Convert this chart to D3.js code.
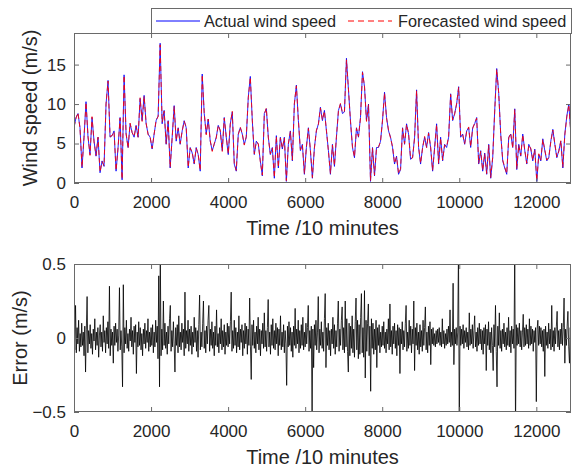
<!DOCTYPE html>
<html><head><meta charset="utf-8">
<script src="https://cdn.jsdelivr.net/npm/d3@7"></script>
<style>
body{margin:0;background:#fff}
svg{display:block;font-family:"Liberation Sans",Arial,Helvetica,sans-serif}
</style>
</head><body>
<svg id="chart" width="573" height="470"></svg>
<script>
// ---------------- data ----------------
const windStep = 52;   // time units (10 min) between wind samples
const actualSpeed = [
7.0,8.3,8.8,7.0,1.9,5.8,10.3,5.8,3.6,8.3,
5.3,3.4,5.8,1.3,2.8,2.1,10.0,13.0,5.8,6.0,
6.6,1.5,4.5,8.3,0.4,13.7,6.2,4.5,7.5,6.4,
5.8,7.3,5.8,10.7,7.9,11.1,7.5,6.2,5.8,4.3,
6.2,7.9,8.5,17.7,7.5,9.2,4.9,7.9,1.9,5.8,
9.8,5.3,7.0,4.9,6.6,7.9,7.0,1.9,4.5,3.8,
2.4,4.5,3.6,1.5,
13.8,8.8,6.2,8.1,5.3,4.1,
4.9,5.8,7.3,6.6,4.1,8.3,5.8,3.6,7.5,9.0,
2.4,1.5,6.2,7.0,6.2,4.9,5.8,10.9,13.5,7.9,
3.6,5.3,4.9,2.8,0.9,8.8,9.4,5.8,3.6,4.5,
0.6,6.0,1.9,5.8,4.3,5.8,0.2,4.9,6.6,2.8,
10.0,12.4,7.9,4.1,4.9,1.1,4.5,7.0,4.1,0.6,
4.5,6.6,7.5,9.6,7.9,
9.2,6.6,4.1,1.1,4.9,
2.1,5.8,9.2,10.0,8.8,9.0,15.8,11.8,7.9,4.5,
3.2,7.0,5.8,8.3,14.1,12.2,7.9,10.0,0.2,4.5,
0.9,4.5,4.5,5.3,7.9,11.5,8.3,6.6,5.8,4.5,
2.4,3.4,1.1,1.7,7.0,4.9,7.5,6.2,3.0,3.2,
5.8,11.8,4.5,2.4,4.5,5.8,4.5,6.4,4.5,1.5,
4.5,7.5,2.4,5.8,2.8,4.9,4.5,
5.8,11.3,7.9,
8.8,10.0,12.2,5.8,6.2,4.9,6.6,7.0,4.5,7.0,
7.5,8.3,2.4,4.1,1.5,3.8,1.1,4.9,0.6,3.2,
9.2,14.5,11.3,6.2,2.8,1.9,1.1,5.8,6.2,4.5,
9.4,1.7,4.9,3.4,6.2,4.1,2.4,4.9,4.3,2.8,
4.3,0.2,3.6,2.8,5.6,4.1,2.8,3.2,5.3,6.8,
4.9,3.2,4.1,5.3,1.9,6.2,8.5,10.0,6.2
];
const forecastSpeed = [
7.1,8.2,8.9,6.9,2.0,5.8,10.2,5.9,3.5,8.4,
5.2,3.5,5.8,1.4,2.7,2.2,10.1,12.9,5.9,6.0,
6.5,1.6,4.5,8.2,0.5,13.6,6.3,4.4,7.6,6.4,
5.9,7.2,5.8,10.8,7.8,11.0,7.6,6.1,5.8,4.4,
6.2,8.0,8.4,17.5,7.7,9.1,5.0,7.8,2.0,5.7,
9.7,5.4,6.9,5.0,6.6,7.8,7.1,2.0,4.4,3.9,
2.5,4.4,3.6,1.6,
13.7,8.9,6.1,8.1,5.4,4.0,
5.0,5.7,7.3,6.7,4.0,8.2,5.9,3.7,7.4,9.1,
2.5,1.6,6.1,7.1,6.2,4.8,5.9,10.8,13.4,8.0,
3.7,5.2,5.0,2.7,1.0,8.7,9.5,5.7,3.7,4.4,
0.7,5.9,2.0,5.7,4.4,5.7,0.3,5.0,6.5,2.9,
10.1,12.3,8.0,4.2,4.8,1.2,4.6,6.9,4.2,0.7,
4.4,6.7,7.4,9.5,8.0,
9.1,6.7,4.0,1.2,4.8,
2.2,5.9,9.1,10.1,8.9,9.1,15.6,11.9,7.8,4.6,
3.3,6.9,5.9,8.2,14.0,12.3,7.8,9.9,0.3,4.4,
1.0,4.4,4.6,5.2,8.0,11.4,8.2,6.7,5.7,4.6,
2.5,3.3,1.2,1.8,6.9,5.0,7.4,6.3,3.1,3.2,
5.7,11.7,4.6,2.5,4.4,5.9,4.5,6.3,4.6,1.6,
4.4,7.4,2.5,5.7,2.9,4.8,4.6,
5.9,11.2,8.0,
8.7,10.1,12.1,5.9,6.1,5.0,6.5,7.1,4.6,6.9,
7.6,8.2,2.5,4.0,1.6,3.7,1.2,4.8,0.7,3.3,
9.1,14.4,11.4,6.1,2.9,2.0,1.2,5.7,6.3,4.4,
9.3,1.8,4.8,3.5,6.1,4.2,2.5,4.8,4.4,2.9,
4.2,0.3,3.7,2.9,5.5,4.2,2.9,3.3,5.2,6.7,
5.0,3.3,4.0,5.4,2.0,6.1,8.4,9.9,6.3
];
const errStep = 20;    // time units between error samples
const errorValues = [
.05,-.08,.22,-.1,.07,-.04,.12,-.09,.03,-.06, .1,-.05,.04,-.12,.08,-.23,.06,.28,-.1,.05,
-.04,.09,-.07,.03,-.11,.06,-.02,.13,-.08,.04, -.05,.07,-.13,.02,.09,-.06,.04,-.09,.15,-.03,
.05,-.1,.07,-.04,.11,-.07,.35,-.12,.06,-.05,
.04,-.17,.08,-.05,.1,-.03,.06,-.09,.02,.34, -.08,.05,-.06,-.33,.36,-.1,.07,-.04,.12,-.07,
.03,-.09,.06,-.02,.14,-.06,.05,-.11,.08,-.03, .09,-.24,.04,-.06,.11,-.05,.07,-.08,.03,-.12,
.06,-.04,.1,-.07,.05,-.03,.13,-.09,.04,-.06,
.07,-.05,.09,-.1,.04,-.06,.12,-.03,.08,-.14, .42,-.33,.55,-.12,.06,-.08,.25,-.05,.1,-.07,
.04,-.11,.08,-.04,.13,.22,-.09,.05,-.06,.11, -.04,-.23,.07,-.05,.09,-.1,.15,-.06,.04,-.08,
.1,-.03,.06,-.12,.31,-.07,.05,-.04,.12,-.09,
.06,-.05,.08,-.11,.04,-.06,.14,-.03,.07,-.09, .05,-.13,.09,.29,-.08,.04,-.06,.1,.25,-.07,
.05,-.1,.08,-.04,.12,.22,-.09,.06,-.05,.11, -.07,.04,-.12,.08,-.05,.19,-.06,.03,-.1,.07,
-.04,.13,-.08,.05,-.06,.09,-.11,.04,-.05,.1,
-.06,.08,-.04,.11,.31,-.09,.05,-.07,.12,-.05, .07,-.1,.04,-.06,.15,-.08,.06,-.03,.09,-.12,
.05,-.07,.1,-.04,.08,-.11,.06,-.05,.27,-.06, -.28,.09,-.05,.12,-.07,.04,-.1,.08,-.04,.14,
-.08,.06,-.12,.05,-.04,.1,-.07,.17,-.06,.05,
-.09,.07,.26,-.06,.04,-.11,.09,-.05,.13,-.07, .05,-.08,.1,-.04,.07,-.12,.06,-.05,.15,-.08,
.04,-.06,.09,-.1,.05,-.04,-.32,.08,-.06,.11, -.05,.07,-.09,.04,-.13,.08,-.05,.2,-.07,.06,
-.04,.12,-.1,.05,-.07,.09,-.05,.14,-.08,.04,
-.06,.1,-.04,.07,.22,-.09,.05,-.07,.08,-.56, .06,-.2,.09,-.05,.12,-.08,.04,.28,-.1,.06,
-.05,.11,-.07,.04,-.09,.13,.3,-.2,.07,-.05, .1,-.08,.05,-.12,.06,-.04,.14,-.07,.09,-.11,
.05,-.06,.1,.25,-.09,.06,-.05,.12,.21,-.08,
.07,-.1,.25,-.06,.13,-.09,-.23,.1,-.12,.08, -.07,.15,-.1,.06,-.13,.11,.27,-.08,.12,-.14,
.09,-.11,.14,.3,-.1,.07,-.13,.32,-.27,.12, -.09,.1,.23,-.12,.08,-.36,.13,-.07,.1,-.11,
.06,-.08,.12,-.2,.07,-.05,.09,-.1,.04,-.06,
.08,-.05,.11,-.07,.04,-.1,.06,-.04,.13,-.08, .23,-.06,.05,-.11,.08,-.04,.1,-.07,.05,-.12,
.09,-.05,.07,-.24,.06,-.04,.11,-.08,.05,-.06, .1,.22,-.09,.04,-.07,.12,-.05,.08,-.1,.06,
-.04,.25,-.22,.07,-.05,.1,-.08,.04,-.11,.09,
-.06,.05,-.09,.12,-.05,.07,.21,-.08,.04,-.1, .08,-.05,.11,-.18,.06,-.04,.07,-.05,.03,-.06,
.05,-.04,.06,-.03,.07,-.05,.04,-.06,.13,-.04, .05,-.07,.03,-.05,.06,-.04,.08,-.03,.19,-.06,
.04,-.05,.37,-.18,.06,-.04,.07,-.05,.04,.6,
-.6,.08,-.05,.06,-.04,.09,-.07,.05,-.03,.07, -.06,.04,-.08,.17,-.05,.06,-.04,.09,-.07,.05,
.15,-.06,.04,-.09,.07,-.05,.1,-.04,.06,-.08, .05,-.11,.07,-.04,.09,-.22,.06,-.05,.11,-.08,
.04,-.1,.07,-.05,-.22,.09,-.06,.22,-.09,-.33,
.08,-.05,.17,-.07,.05,-.09,.06,-.04,.1,-.06, .04,-.08,.07,-.05,.14,-.06,.05,-.1,.08,-.04,
.06,-.07,.6,-.6,.09,-.05,.07,-.04,.1,-.06, .05,-.08,.04,.16,-.06,.07,-.05,.09,-.04,.06,
-.07,.13,-.05,.08,-.04,.06,-.09,.05,-.03,.07,
-.43,.06,.12,-.05,.08,-.04,.07,-.06,.05,-.09, .06,-.26,.08,-.05,.04,-.07,.1,-.04,.06,-.08,
.22,-.06,.05,-.09,.07,-.04,.08,.18,-.06,.05, -.08,.06,-.04,.1,-.05,.07,.27,-.17,.06,-.05,
.08,.18,-.06,-.17,.07,-.05
];
const timeTicks = [0,2000,4000,6000,8000,10000,12000];
const windTicks = [0,5,10,15];
const errTicks = [-0.5,0,0.5];
const timeDomain = [0,12900];
const windDomain = [0,19];
const errDomain = [-0.5,0.5];
const legendLabels = ["Actual wind speed","Forecasted wind speed"];
const xTitle = "Time /10 minutes";
const windTitle = "Wind speed (m/s)";
const errTitle = "Error (m/s)";

// ---------------- layout ----------------
const svg = d3.select("#chart");
const L = 74, R = 571;
const axisCol = "#6a6a6a", textCol = "#262626";
const tickFs = 17, titleFs = 20, legFs = 16.3;

const x = d3.scaleLinear().domain(timeDomain).range([L, R]);

function panel(id, top, bottom, yDomain, yTicks, yTitle, yTitleX) {
  const y = d3.scaleLinear().domain(yDomain).range([bottom, top]);
  svg.append("clipPath").attr("id", id).append("rect")
    .attr("x", L).attr("y", top).attr("width", R - L).attr("height", bottom - top);
  const g = svg.append("g");
  // axes (inward ticks, mirrored)
  const fmt = d3.format("");
  const ax = [
    [d3.axisBottom(x).tickValues(timeTicks).tickSize(-5).tickPadding(13).tickFormat(d3.format("d")), `translate(0,${bottom})`, true],
    [d3.axisTop(x).tickValues(timeTicks).tickSize(-5).tickFormat(""), `translate(0,${top})`, false],
    [d3.axisLeft(y).tickValues(yTicks).tickSize(-5).tickPadding(8).tickFormat(fmt), `translate(${L},0)`, true],
    [d3.axisRight(y).tickValues(yTicks).tickSize(-5).tickFormat(""), `translate(${R},0)`, false]
  ];
  const plot = g.append("g").attr("clip-path", `url(#${id})`);
  ax.forEach(([a, tr, lab]) => {
    const ga = g.append("g").attr("transform", tr).call(a);
    ga.select(".domain").remove();
    ga.selectAll(".tick line").attr("stroke", axisCol);
    ga.selectAll(".tick text").attr("fill", textCol).attr("font-size", tickFs)
      .attr("font-family", "Liberation Sans, Arial, sans-serif");
  });
  g.append("rect").attr("x", L + 0.5).attr("y", top + 0.5)
    .attr("width", R - L - 1).attr("height", bottom - top - 1)
    .attr("fill", "none").attr("stroke", axisCol).attr("stroke-width", 1);
  g.append("text").attr("x", (L + R) / 2).attr("y", bottom + 52)
    .attr("text-anchor", "middle").attr("font-size", titleFs).attr("fill", textCol).text(xTitle);
  g.append("text").attr("transform", `translate(${yTitleX},${(top + bottom) / 2}) rotate(-90)`)
    .attr("text-anchor", "middle").attr("font-size", titleFs).attr("fill", textCol).text(yTitle);
  return { y, plot, g };
}

// top panel
const P1 = panel("clipTop", 33, 183, windDomain, windTicks, windTitle, 37);
const line1 = d3.line().x((d, i) => x(i * windStep)).y(d => P1.y(d));
P1.plot.append("path").datum(actualSpeed).attr("d", line1)
  .attr("fill", "none").attr("stroke", "#0000ff").attr("stroke-width", 1).attr("stroke-opacity", 0.85);
P1.plot.append("path").datum(forecastSpeed).attr("d", line1)
  .attr("fill", "none").attr("stroke", "#ff0000").attr("stroke-width", 1)
  .attr("stroke-dasharray", "5,3").attr("stroke-opacity", 0.85);

// bottom panel
const P2 = panel("clipBot", 264, 412, errDomain, errTicks, errTitle, 27);
const line2 = d3.line().x((d, i) => x(i * errStep)).y(d => P2.y(d));
P2.plot.append("path").datum(errorValues).attr("d", line2)
  .attr("fill", "none").attr("stroke", "#000").attr("stroke-width", 0.8);

// legend
const lg = svg.append("g");
lg.append("rect").attr("x", 151.5).attr("y", 8.5).attr("width", 420).attr("height", 25)
  .attr("fill", "#fff").attr("stroke", axisCol);
const items = [
  { x0: 156, x1: 200, tx: 204, col: "#0000ff", dash: null },
  { x0: 348, x1: 392, tx: 398, col: "#ff0000", dash: "6,4" }
];
items.forEach((it, i) => {
  lg.append("line").attr("x1", it.x0).attr("x2", it.x1).attr("y1", 21).attr("y2", 21)
    .attr("stroke", it.col).attr("stroke-width", 1).attr("stroke-dasharray", it.dash);
  lg.append("text").attr("x", it.tx).attr("y", 27).attr("font-size", legFs)
    .attr("fill", textCol).text(legendLabels[i]);
});
</script>
</body></html>
